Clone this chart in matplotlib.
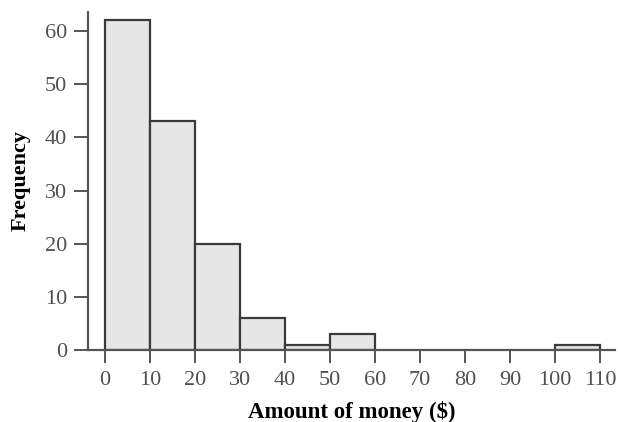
import matplotlib
matplotlib.use("Agg")
import matplotlib.pyplot as plt

# bin edges ($) and frequencies
bin_edges = [0, 10, 20, 30, 40, 50, 60, 70, 80, 90, 100, 110]
counts = [62, 43, 20, 6, 1, 3, 0, 0, 0, 0, 1]
x_ticks = [0, 10, 20, 30, 40, 50, 60, 70, 80, 90, 100, 110]
y_ticks = [0, 10, 20, 30, 40, 50, 60]

plt.rcParams['font.family'] = ['Liberation Serif', 'DejaVu Serif']

fig = plt.figure(figsize=(6.18, 4.22), dpi=100)
ax = fig.add_axes([0.1424, 0.1706, 0.995 - 0.1424, 0.9716 - 0.1706])

widths = [b - a for a, b in zip(bin_edges[:-1], bin_edges[1:])]
for left, w, c in zip(bin_edges[:-1], widths, counts):
    if c > 0:
        ax.bar(left, c, width=w, align='edge', color='#e6e6e6',
               edgecolor='#3a3a3a', linewidth=1.6, zorder=2)

ax.set_xlim(-3.8, 113.3)
ax.set_ylim(0, 63.6)

for s in ['top', 'right']:
    ax.spines[s].set_visible(False)
for s in ['left', 'bottom']:
    ax.spines[s].set_color('#555555')
    ax.spines[s].set_linewidth(1.6)

ax.set_xticks(x_ticks)
ax.set_yticks(y_ticks)
ax.tick_params(axis='both', direction='out', width=1.4,
               color='#555555', labelcolor='#505050', labelsize=16)
ax.tick_params(axis='x', length=9, pad=6)
ax.tick_params(axis='y', length=10, pad=5)

ax.set_xlabel('Amount of money ($)', fontsize=16.5, fontweight='bold',
              labelpad=8)
ax.set_ylabel('Frequency', fontsize=16, fontweight='bold', labelpad=10)

fig.savefig('out.png', dpi=100)
plt.close(fig)
